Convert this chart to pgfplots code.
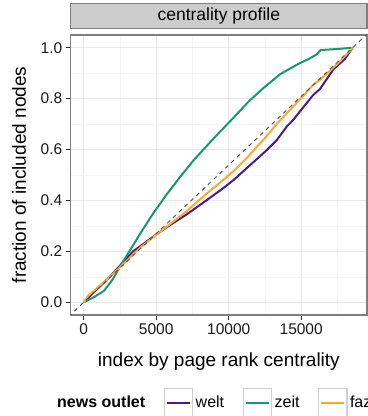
\documentclass[border=0pt]{standalone}
\usepackage{pgfplots}
\pgfplotsset{compat=1.18}
\usepackage{fontspec}
\setmainfont{Liberation Sans}
\definecolor{welt}{RGB}{76,26,138}
\definecolor{zeit}{RGB}{22,153,112}
\definecolor{faz}{RGB}{250,170,50}
\definecolor{gridmaj}{HTML}{E8E8E8}
\definecolor{gridmin}{HTML}{F5F5F5}
\definecolor{panelborder}{HTML}{7F7F7F}
\definecolor{stripfill}{HTML}{CCCCCC}
\definecolor{keybox}{HTML}{D0D0D0}
\begin{document}
\begin{tikzpicture}
\useasboundingbox (-70.7bp,-101bp) rectangle (297.3bp,315bp);
\begin{axis}[
  at={(0,0)}, anchor=south west,
  scale only axis, width=296.3bp, height=280bp,
  xmin=-900, xmax=19540, ymin=-0.05, ymax=1.05,
  xtick={0,5000,10000,15000}, ytick={0,0.2,0.4,0.6,0.8,1.0},
  minor xtick={2500,7500,12500,17500}, minor ytick={0.1,0.3,0.5,0.7,0.9},
  grid=both,
  major grid style={draw=gridmaj, line width=1.1bp},
  minor grid style={draw=gridmin, line width=0.6bp},
  axis line style={draw=panelborder, line width=1.1bp},
  tick align=outside, tick pos=left,
  major tick length=5bp, minor tick length=0pt,
  every tick/.style={draw=black!85, line width=1.2bp},
  scaled x ticks=false, scaled y ticks=false,
  xticklabel style={/pgf/number format/.cd, 1000 sep={}, assume math mode=true},
  yticklabel style={/pgf/number format/.cd, fixed, fixed zerofill, precision=1, assume math mode=true},
  tick label style={font=\fontsize{15.5bp}{18bp}\selectfont, text=black!90},
  xlabel={index by page rank centrality},
  ylabel={fraction of included nodes},
  label style={font=\fontsize{19bp}{22bp}\selectfont},
  xlabel style={at={(axis description cs:0.5,-0.1857)}, anchor=base},
  ylabel style={at={(axis description cs:-0.1745,0.5)}, anchor=center},
  title={centrality profile},
  title style={at={(axis description cs:0.5,1)}, anchor=south, minimum width=296.3bp, minimum height=25bp, inner sep=0pt, fill=stripfill, draw=panelborder, line width=1.1bp, font=\fontsize{17.5bp}{20bp}\selectfont},
  legend columns=-1,
  legend style={at={(axis description cs:-0.0547,-0.3125)}, anchor=west, draw=none, fill=none, inner sep=0pt,
    font=\fontsize{16bp}{19bp}\selectfont,
    /tikz/every even column/.append style={column sep=16bp},
    nodes={inner xsep=2.5bp, inner ysep=1.5bp}},
  legend image code/.code={
    \draw[draw=keybox, fill=white, line width=1.1bp, solid] (0bp,-14bp) rectangle (28.4bp,14bp);
    \draw[line width=2bp] (2.8bp,0bp) -- (25.6bp,0bp);
  },
]
\addlegendimage{empty legend}
\addlegendentry{\textbf{news outlet}}
\addplot[welt, line width=2bp] coordinates {
(0,0) (800,0.045) (1800,0.10) (2600,0.15) (3400,0.20) (4200,0.233) (5000,0.266) (6000,0.305) (7120,0.346) (8500,0.402) (9500,0.443) (10330,0.48) (11500,0.54) (12630,0.598) (13330,0.638) (14000,0.69) (14460,0.717) (14920,0.75) (15840,0.815) (16300,0.838) (17220,0.915) (18000,0.955) (18550,1.0)
};
\addlegendentry{welt}
\addplot[zeit, line width=2bp] coordinates {
(0,0) (700,0.02) (1400,0.045) (2000,0.09) (2600,0.15) (3200,0.205) (3900,0.27) (4800,0.35) (5740,0.425) (6660,0.493) (7580,0.558) (8950,0.643) (10330,0.725) (11400,0.79) (12400,0.842) (13550,0.896) (14440,0.925) (14920,0.94) (15500,0.955) (16070,0.974) (16350,0.991) (17500,0.995) (18550,1.0)
};
\addlegendentry{zeit}
\addplot[faz, line width=2bp] coordinates {
(0,0) (300,0.025) (1000,0.06) (2000,0.11) (3000,0.165) (3900,0.215) (5290,0.278) (6200,0.318) (7120,0.359) (8500,0.428) (9400,0.47) (10330,0.515) (11300,0.57) (12170,0.625) (12400,0.638) (13300,0.70) (14460,0.769) (15200,0.815) (15840,0.855) (16300,0.874) (17000,0.91) (17700,0.948) (18550,1.0)
};
\addlegendentry{faz}
\addplot[black!65, line width=1bp, dash pattern=on 4bp off 4bp, forget plot] coordinates {(-1855,-0.1) (20405,1.1)};
\end{axis}
\end{tikzpicture}
\end{document}
